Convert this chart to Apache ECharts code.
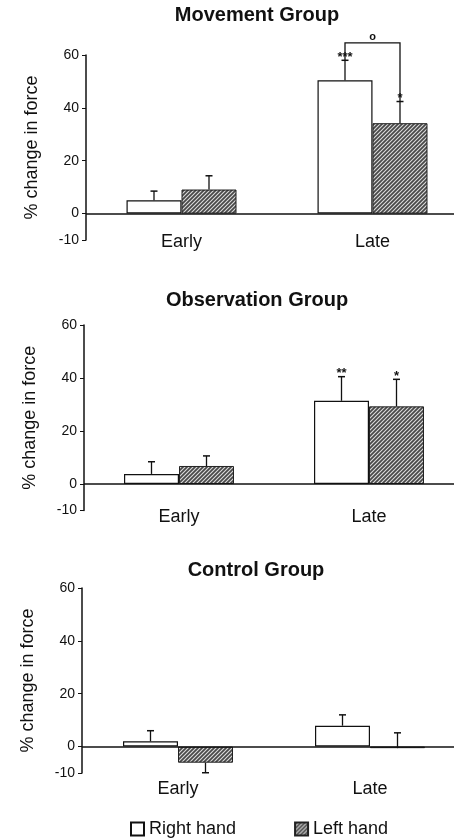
<!DOCTYPE html>
<html><head><meta charset="utf-8">
<script src="https://cdn.jsdelivr.net/npm/echarts@6/dist/echarts.min.js"></script>
<style>html,body{margin:0;padding:0;background:#fff}#c{width:454px;height:839px}</style>
</head><body><div id="c"></div>
<script>
// ---- data ----
const categories = ['Early', 'Late'];
const groupTitles = ['Movement Group', 'Observation Group', 'Control Group'];
const yTicks = [-10, 0, 20, 40, 60];
const seriesNames = ['Right hand', 'Left hand'];
const rightHand = [[5, 50.4], [3.8, 31.4], [2, 7.9]];
const rightErrTop = [[8.5, 58], [8.4, 40.5], [6, 12]];
const leftHand = [[9.1, 34.2], [6.8, 29.3], [-6.1, -0.6]];
const leftErrTop = [[14.3, 42.4], [10.6, 39.5], [-9.9, 5.2]];
const rightStars = [['', '***'], ['', '**'], ['', '']];
const leftStars = [['', '*'], ['', '*'], ['', '']];
const bracketLevel = [64.6, null, null];   // Late: right vs left comparison
const bracketLabel = ['o', '', ''];

// ---- layout ----
const FONT = 'Liberation Sans, Arial, sans-serif';
const BAR_W = 55;
const grids = [
  {left: 86, top: 55, height: 185, width: 382, labelMargin: -7, titleX: 257, titleY: 15},
  {left: 84, top: 325, height: 185.5, width: 380, labelMargin: -2, titleX: 257, titleY: 300},
  {left: 82, top: 588, height: 185, width: 384, labelMargin: 7, titleX: 256, titleY: 570}
];

// hatch pattern
const pc = document.createElement('canvas'); pc.width = 4; pc.height = 4;
const g = pc.getContext('2d');
g.fillStyle = '#484848'; g.fillRect(0, 0, 4, 4);
g.strokeStyle = '#dcdcdc'; g.lineWidth = 1.1;
g.beginPath();
g.moveTo(0, 4); g.lineTo(4, 0);
g.moveTo(-2, 2); g.lineTo(2, -2);
g.moveTo(2, 6); g.lineTo(6, 2);
g.stroke();
const hatch = {image: pc, repeat: 'repeat'};

const option = {
  animation: false,
  backgroundColor: '#fff',
  textStyle: {fontFamily: FONT},
  grid: [], xAxis: [], yAxis: [], series: [], graphic: [],
  legend: {
    left: 130, top: 820, padding: 0, itemWidth: 13, itemHeight: 13, itemGap: 58,
    icon: 'rect', data: seriesNames,
    textStyle: {fontSize: 18, color: '#111', fontFamily: FONT}
  }
};

grids.forEach((gr, i) => {
  option.grid.push({left: gr.left, top: gr.top, height: gr.height, width: gr.width,
                    outerBoundsMode: 'none', containLabel: false});
  option.graphic.push({
    type: 'text', x: gr.titleX, y: gr.titleY, silent: true,
    style: {text: groupTitles[i], x: 0, y: 0, textAlign: 'center', textVerticalAlign: 'middle',
            font: 'bold 20px ' + FONT, fill: '#111'}
  });
  option.xAxis.push({
    type: 'category', gridIndex: i, data: categories,
    axisLine: {show: false, onZero: false}, axisTick: {show: false},
    axisLabel: {fontSize: 18, color: '#111', margin: gr.labelMargin, fontFamily: FONT}
  });
  option.yAxis.push({
    type: 'value', gridIndex: i, min: -10, max: 60,
    name: '% change in force', nameLocation: 'middle', nameGap: 45,
    nameTextStyle: {fontSize: 18, color: '#111', fontFamily: FONT},
    axisLine: {show: true, lineStyle: {color: '#111', width: 1.5}},
    axisTick: {show: true, length: 4, customValues: yTicks, lineStyle: {color: '#111'}},
    axisLabel: {fontSize: 14, color: '#111', margin: 7, customValues: yTicks, fontFamily: FONT},
    splitLine: {show: false}
  });
  option.series.push({
    name: seriesNames[0], type: 'bar', xAxisIndex: i, yAxisIndex: i,
    data: rightHand[i], barWidth: BAR_W, barGap: '0%',
    itemStyle: {color: '#fff', borderColor: '#111', borderWidth: 1.2},
    markLine: {
      silent: true, symbol: 'none', label: {show: false},
      lineStyle: {color: '#111', width: 1.5, type: 'solid'},
      data: [{yAxis: 0}]
    },
    z: 2
  });
  option.series.push({
    name: seriesNames[1], type: 'bar', xAxisIndex: i, yAxisIndex: i,
    data: leftHand[i], barWidth: BAR_W, barGap: '0%',
    itemStyle: {color: hatch, borderColor: '#222', borderWidth: 1},
    z: 2
  });
  // error bars + stars
  const errData = [];
  categories.forEach((c, k) => {
    errData.push([k, -1, rightHand[i][k], rightErrTop[i][k], 0]);
    errData.push([k, 1, leftHand[i][k], leftErrTop[i][k], 1]);
  });
  const stars = [rightStars[i], leftStars[i]];
  option.series.push({
    type: 'custom', xAxisIndex: i, yAxisIndex: i, silent: true, z: 5,
    data: errData,
    renderItem: function (params, api) {
      const k = api.value(0), side = api.value(1), mean = api.value(2), top = api.value(3), s = api.value(4);
      const p0 = api.coord([k, mean]);
      const p1 = api.coord([k, top]);
      const x = p0[0] + side * BAR_W / 2;
      const dir = top >= mean ? -1 : 1;
      const children = [
        {type: 'line', shape: {x1: x, y1: p0[1], x2: x, y2: p1[1]}, style: {stroke: '#111', lineWidth: 1.3}},
        {type: 'line', shape: {x1: x - 3.5, y1: p1[1], x2: x + 3.5, y2: p1[1]}, style: {stroke: '#111', lineWidth: 1.5}}
      ];
      const txt = stars[s][k];
      if (txt) {
        children.push({type: 'text', style: {text: txt, x: x, y: p1[1] + dir * 3, textAlign: 'center',
          textVerticalAlign: 'middle', font: 'bold 13px ' + FONT, fill: '#111'}});
      }
      return {type: 'group', children: children};
    }
  });
  if (bracketLevel[i] !== null) {
    option.series.push({
      type: 'custom', xAxisIndex: i, yAxisIndex: i, silent: true, z: 5,
      data: [[1, rightErrTop[i][1], leftErrTop[i][1], bracketLevel[i]]],
      renderItem: function (params, api) {
        const k = api.value(0);
        const pr = api.coord([k, api.value(1)]);
        const pl = api.coord([k, api.value(2)]);
        const pt = api.coord([k, api.value(3)]);
        const xr = pr[0] - BAR_W / 2, xl = pr[0] + BAR_W / 2;
        return {type: 'group', children: [
          {type: 'polyline', shape: {points: [[xr, pr[1]], [xr, pt[1]], [xl, pt[1]], [xl, pl[1]]]},
           style: {stroke: '#111', lineWidth: 1.3, fill: null}},
          {type: 'text', style: {text: bracketLabel[i], x: (xr + xl) / 2, y: pt[1] - 6, textAlign: 'center',
           textVerticalAlign: 'middle', font: 'bold 11px ' + FONT, fill: '#111'}}
        ]};
      }
    });
  }
});

const chart = echarts.init(document.getElementById('c'), null, {renderer: 'canvas'});
chart.setOption(option);
</script>
</body></html>
